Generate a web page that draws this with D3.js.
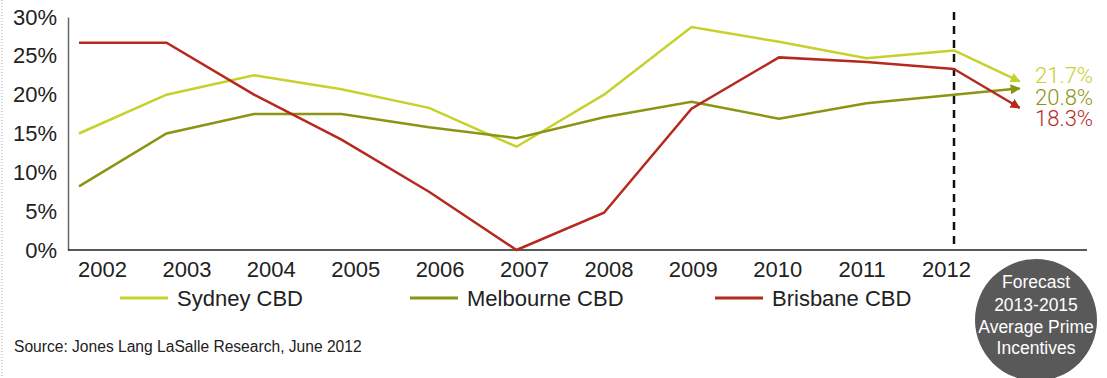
<!DOCTYPE html>
<html>
<head>
<meta charset="utf-8">
<script src="https://cdn.jsdelivr.net/npm/d3@7"></script>
<style>
  body { margin: 0; background: #fff; }
  svg { font-family: "Liberation Sans", Arial, sans-serif; }
</style>
</head>
<body>
<svg id="chart" width="1107" height="378"></svg>
<script>
const years = [2002, 2003, 2004, 2005, 2006, 2007, 2008, 2009, 2010, 2011, 2012];
const sydney = [15, 20, 22.5, 20.7, 18.3, 13.3, 20, 28.7, 26.8, 24.7, 25.7];
const melbourne = [8.2, 15, 17.5, 17.5, 15.8, 14.4, 17.1, 19.1, 16.9, 18.9, 20];
const brisbane = [26.7, 26.7, 20, 14.2, 7.5, 0, 4.8, 18.2, 24.8, 24.2, 23.3];
const forecast = [21.7, 20.8, 18.3];
const forecastYear = 2012.75;
const yTicks = [0, 5, 10, 15, 20, 25, 30];
const seriesNames = ['Sydney CBD', 'Melbourne CBD', 'Brisbane CBD'];
const colors = ['#c6d12b', '#8c9413', '#b7291f'];
const circleLines = ['Forecast', '2013-2015', 'Average Prime', 'Incentives'];
const source = 'Source: Jones Lang LaSalle Research, June 2012';

const svg = d3.select('#chart');

const x = d3.scaleLinear().domain([2002, 2012]).range([79, 954]);
// year labels sit on their own, slightly shifted row
const xLabel = d3.scaleLinear().domain([2002, 2012]).range([102, 946]);
const y = d3.scaleLinear().domain([0, 30]).range([250, 17]);

// left dotted border
svg.append('line')
  .attr('x1', 2).attr('x2', 2).attr('y1', 0).attr('y2', 378)
  .attr('stroke', '#aaa').attr('stroke-width', 1).attr('stroke-dasharray', '1,2');

// Y axis
const yAxis = svg.append('g')
  .attr('transform', 'translate(68,0)')
  .call(d3.axisLeft(y).tickValues(yTicks).tickSize(0).tickPadding(11).tickFormat(d => d + '%'));
yAxis.select('.domain').attr('stroke', '#666').attr('stroke-width', 1.5);
yAxis.selectAll('text').attr('font-size', 22).attr('fill', '#222')
  .attr('font-family', '"Liberation Sans", Arial, sans-serif');

// X axis
const xAxis = svg.append('g')
  .attr('transform', 'translate(0,251)')
  .call(d3.axisBottom(xLabel).tickValues(years).tickSize(0).tickPadding(10).tickFormat(d3.format('d')));
xAxis.select('.domain').remove();
xAxis.selectAll('text').attr('font-size', 22).attr('fill', '#222')
  .attr('font-family', '"Liberation Sans", Arial, sans-serif');
svg.append('line')
  .attr('x1', 68).attr('x2', 1087).attr('y1', 250).attr('y2', 250)
  .attr('stroke', '#222').attr('stroke-width', 1.5);

// forecast divider
svg.append('line')
  .attr('x1', x(2012)).attr('x2', x(2012)).attr('y1', 12).attr('y2', 250)
  .attr('stroke', '#111').attr('stroke-width', 2.5).attr('stroke-dasharray', '8,6');

// arrow markers
const defs = svg.append('defs');
colors.forEach((c, i) => {
  defs.append('marker')
    .attr('id', 'arrow' + i)
    .attr('viewBox', '0 0 10 10')
    .attr('refX', 9).attr('refY', 5)
    .attr('markerWidth', 4).attr('markerHeight', 4)
    .attr('orient', 'auto')
    .attr('markerUnits', 'strokeWidth')
    .append('path').attr('d', 'M0,0L10,5L0,10z').attr('fill', c);
});

const line = d3.line().x(d => x(d[0])).y(d => y(d[1]));
const allSeries = [sydney, melbourne, brisbane];

allSeries.forEach((vals, i) => {
  const last = vals[vals.length - 1];
  svg.append('path')
    .datum([[2012, last], [forecastYear, forecast[i]]])
    .attr('d', line)
    .attr('fill', 'none').attr('stroke', colors[i]).attr('stroke-width', 2.5)
    .attr('marker-end', 'url(#arrow' + i + ')');
  svg.append('path')
    .datum(vals.map((v, j) => [years[j], v]))
    .attr('d', line)
    .attr('fill', 'none').attr('stroke', colors[i]).attr('stroke-width', 2.5)
    .attr('stroke-linejoin', 'miter');
});

// forecast labels
const labelY = [75, 97, 118];
forecast.forEach((v, i) => {
  svg.append('text')
    .attr('x', 1035).attr('y', labelY[i]).attr('dy', '0.35em')
    .attr('font-family', 'Roboto, sans-serif').attr('font-weight', 300)
    .attr('font-size', 22).attr('fill', colors[i])
    .text(v.toFixed(1) + '%');
});

// legend
const legendX = [120, 410, 715];
seriesNames.forEach((name, i) => {
  const g = svg.append('g').attr('transform', 'translate(' + legendX[i] + ',298)');
  g.append('line').attr('x1', 0).attr('x2', 48).attr('y1', 0).attr('y2', 0)
    .attr('stroke', colors[i]).attr('stroke-width', 3);
  g.append('text').attr('x', 57).attr('dy', '0.35em')
    .attr('font-size', 22).attr('fill', '#222').text(name);
});

// source
svg.append('text')
  .attr('x', 14).attr('y', 347).attr('dy', '0.35em')
  .attr('font-size', 15.6).attr('fill', '#222').text(source);

// forecast circle
svg.append('circle')
  .attr('cx', 1036).attr('cy', 320).attr('r', 61)
  .attr('fill', '#595959');
const circleY = [282, 305, 327, 348];
circleLines.forEach((t, i) => {
  svg.append('text')
    .attr('x', 1036).attr('y', circleY[i]).attr('dy', '0.35em')
    .attr('text-anchor', 'middle').attr('font-size', 17.5).attr('fill', '#fff')
    .text(t);
});
</script>
</body>
</html>
